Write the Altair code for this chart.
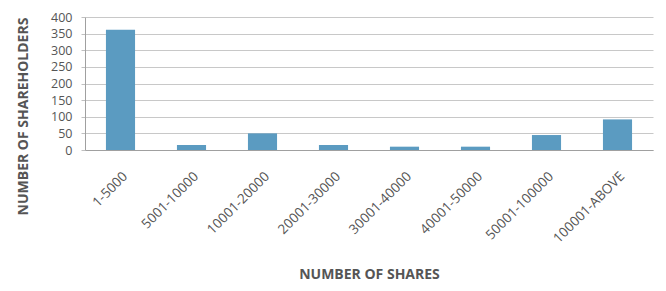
import altair as alt
import pandas as pd

categories = ["1-5000", "5001-10000", "10001-20000", "20001-30000",
              "30001-40000", "40001-50000", "50001-100000", "100001-ABOVE"]
shareholders = [362, 15, 50, 15, 10, 10, 45, 92]

df = pd.DataFrame({"cat": categories, "val": shareholders})

font = "Open Sans"
W, H = 568, 133
chart = alt.Chart(df).mark_bar(color="#5b9bc1", width={"band": 0.41}).encode(
    x=alt.X("cat:N", sort=categories, title="NUMBER OF SHARES",
            scale=alt.Scale(paddingInner=0, paddingOuter=0),
            axis=alt.Axis(labelAngle=-45, labelFont=font, labelFontSize=13.5,
                          labelColor="#555555", titleFont=font, titleFontSize=14,
                          titleFontWeight="bold", titleColor="#555555",
                          domainColor="#a0a0a0", ticks=False, labelPadding=19,
                          titleX=284, titleY=124, titleBaseline="middle",
                          titleAlign="center")),
    y=alt.Y("val:Q", title="NUMBER OF SHAREHOLDERS",
            scale=alt.Scale(domain=[0, 400], nice=False),
            axis=alt.Axis(values=list(range(0, 401, 50)), labelFont=font,
                          labelFontSize=12.5, labelColor="#555555",
                          titleFont=font, titleFontSize=14, titleFontWeight="bold",
                          titleColor="#555555", domainColor="#a0a0a0",
                          tickColor="#c0c0c0", tickSize=4, gridColor="#c8c8c8",
                          labelPadding=9, titleX=-62, titleY=99, titleAngle=270,
                          titleAlign="center", titleBaseline="middle")),
).properties(
    width=W, height=H,
    autosize=alt.AutoSizeParams(type="none"),
    padding={"left": 77, "top": 9, "right": 5, "bottom": 133},
).configure_view(stroke=None)

chart.save("out.html", embed_options={"renderer": "svg", "actions": False})
